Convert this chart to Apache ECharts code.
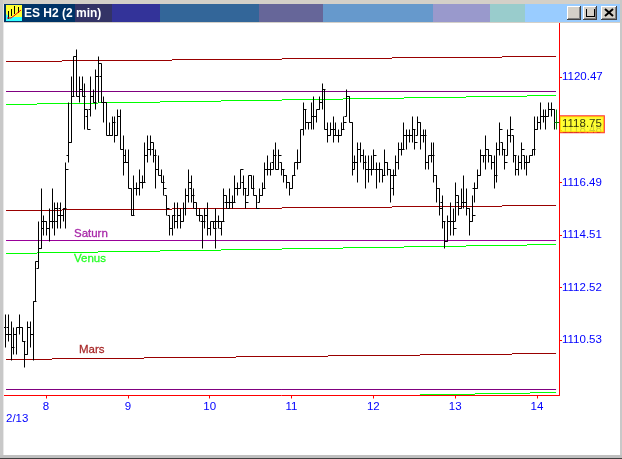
<!DOCTYPE html>
<html><head><meta charset="utf-8">
<style>html,body{margin:0;padding:0;background:#fff}#c{width:622px;height:459px}</style>
<script src="https://cdn.jsdelivr.net/npm/echarts@6/dist/echarts.min.js"></script>
</head><body><div id="c"></div>
<script>
// Prices are stored in ES ticks (quarter points) above basePrice.
const basePrice = 1108, tickSize = 0.25, firstBarMinute = 450.5, barMinutes = 2;
const highTicks = [14,14,13,12,12,14,12,10,13,13,
16,22,28,33,29,28,30,33,31,31,
31,30,37,46,50,53,54,50,50,49,
45,50,48,51,53,52,47,46,43,44,
44,45,45,41,39,39,33,35,34,36,
35,40,41,41,40,39,38,36,35,32,
29,29,31,31,30,31,33,36,35,33,
31,30,29,30,31,28,28,30,29,28,
33,32,33,32,35,34,36,35,33,35,
35,35,32,33,34,37,38,37,39,40,
39,37,36,35,34,35,37,39,42,46,
45,43,46,47,45,47,49,48,43,43,
44,43,42,43,44,48,47,43,38,40,
40,39,38,38,38,39,37,37,36,39,
37,36,36,38,40,40,43,42,42,44,
42,44,43,42,42,38,40,40,35,33,
32,28,29,31,30,34,32,33,35,33,
30,32,34,36,39,38,41,39,38,38,
40,43,40,39,42,44,41,38,38,40,
38,38,38,39,44,44,46,45,45,46,
46,45,45];
const lowTicks = [9,10,7,8,8,11,10,6,8,9,
7,16,21,24,26,26,25,27,26,27,
27,28,27,37,40,47,47,46,47,42,
42,44,46,45,46,46,43,41,41,41,
40,41,39,35,37,33,29,29,32,32,
33,34,37,38,37,33,35,34,32,29,
26,26,27,27,27,28,29,31,31,30,
29,28,24,27,26,26,27,24,27,26,
28,30,30,30,31,32,33,32,30,32,
33,32,30,31,32,33,35,35,36,36,
36,35,34,33,32,33,35,36,37,41,
42,42,42,42,43,45,45,42,40,41,
40,41,40,41,42,44,43,35,36,34,
37,36,33,34,35,36,33,34,34,35,
35,31,32,35,36,38,39,39,40,40,
39,41,39,40,36,36,37,34,31,29,
27,24,25,26,26,28,29,30,30,29,
26,28,31,33,35,37,36,37,36,33,
34,38,38,36,38,40,37,35,35,36,
36,35,37,38,38,42,42,43,42,44,
44,42,42];
const openTicks = [12,12,11,9,11,12,12,10,8,12,
11,16,21,24,27,28,27,28,28,28,
30,29,30,38,40,47,53,47,48,47,
44,45,47,46,50,50,46,46,41,41,
43,41,44,39,38,37,33,29,33,33,
34,34,38,39,39,38,36,35,34,32,
29,27,29,28,29,28,30,32,33,32,
30,29,28,28,29,27,28,28,28,27,
28,31,30,31,31,33,33,34,33,32,
35,33,32,31,32,33,36,36,37,38,
36,37,36,35,34,33,35,37,37,42,
45,43,43,44,44,45,46,48,42,41,
42,42,41,41,42,44,47,43,36,37,
39,38,37,36,36,36,36,36,36,35,
37,36,33,35,37,39,39,41,41,41,
42,41,43,41,41,37,38,38,35,33,
31,28,25,28,28,28,31,30,31,31,
30,28,33,33,35,38,38,39,38,37,
35,39,40,39,38,41,41,38,36,37,
38,37,37,38,39,42,43,44,44,44,
45,45,43];
const closeTicks = [11,11,9,11,12,12,10,8,12,11,
16,22,24,28,28,27,28,28,30,29,
29,30,36,40,47,53,47,48,47,45,
42,47,46,50,52,46,46,41,41,43,
41,44,39,37,37,33,29,33,33,34,
34,38,39,40,38,36,35,34,33,30,
27,29,28,29,28,30,32,34,32,31,
29,29,28,29,27,28,27,28,28,28,
32,31,31,31,33,33,36,33,31,35,
33,32,30,32,33,36,36,36,38,36,
38,36,35,34,33,35,37,37,42,45,
43,43,44,44,45,46,48,42,41,42,
41,41,41,42,43,47,43,37,37,39,
38,37,36,36,36,38,36,36,35,37,
36,35,35,37,39,39,41,41,41,42,
40,43,41,41,37,38,38,35,33,30,
28,25,28,28,27,32,30,31,31,30,
28,29,33,35,38,38,39,38,37,35,
39,42,39,37,41,42,38,36,37,39,
37,37,38,39,42,43,44,44,44,45,
45,43,43];

// Planet price lines: step minutes (clock minutes of the day) and the level held in each step.
const redMinutes = [450.7,491.7,572.4,653,733.7,814.4,854];
const redUpper = [1121.07,1121.11,1121.15,1121.18,1121.22,1121.26];
const redMiddle = [1115.44,1115.48,1115.52,1115.56,1115.59,1115.63];
const marsMinutes = [450.7,484.4,551.9,619.3,686.8,754.2,821.7,854];
const marsLevels = [1109.81,1109.85,1109.89,1109.93,1109.96,1110.00,1110.04];
const greenMinutes = [450.7,473.4,518.1,563.6,608.3,653,697.8,742.5,788,832.7,854];
const greenUpper = [1119.45,1119.49,1119.53,1119.56,1119.60,1119.64,1119.68,1119.71,1119.75,1119.79];
const venusLevels = [1113.82,1113.86,1113.89,1113.93,1113.97,1114.01,1114.05,1114.08,1114.12,1114.16];
const greenLowerMinutes = [754.2,794.5,834.9,854];
const greenLower = [1108.49,1108.53,1108.57];
const purpleMinutes = [450.7,854];
const purpleUpper = [1119.94], saturnLevels = [1114.31], purpleLower = [1108.68];

const priceTicks = [1110.53,1112.52,1114.51,1116.49,1118.48,1120.47];
const hourTicks = [480,540,600,660,720,780,840];
const lastPrice = 1118.75;
const annotations = [
  {name:'Saturn', minute:500.5, price:1114.55, color:'#990099'},
  {name:'Venus', minute:500.5, price:1113.60, color:'#00ff00'},
  {name:'Mars', minute:504.2, price:1110.16, color:'#990000'}
];
const titleText = 'ES H2 (2 min)', dateText = '2/13';

const bars = highTicks.map((h,i)=>[firstBarMinute+i*barMinutes, basePrice+h*tickSize, basePrice+lowTicks[i]*tickSize, basePrice+openTicks[i]*tickSize, basePrice+closeTicks[i]*tickSize]);
const font = '"Liberation Sans", Arial, sans-serif';

function crisp(v){ return Math.round(v-0.5)+0.5; }
function renderBar(params, api){
  const t = api.value(0);
  const hi = api.coord([t, api.value(1)]), lo = api.coord([t, api.value(2)]);
  const op = api.coord([t, api.value(3)]), cl = api.coord([t, api.value(4)]);
  const x = crisp(hi[0]), stroke = params.dataIndex === bars.length-1 ? '#008000' : '#000';
  const st = {stroke, lineWidth:1, fill:null};
  return {type:'group', children:[
    {type:'line', shape:{x1:x,y1:crisp(hi[1]),x2:x,y2:crisp(lo[1])}, style:st},
    {type:'line', shape:{x1:x-2,y1:crisp(op[1]),x2:x,y2:crisp(op[1])}, style:st},
    {type:'line', shape:{x1:x,y1:crisp(cl[1]),x2:x+3,y2:crisp(cl[1])}, style:st}
  ]};
}
function renderStep(params, api){
  const a = api.coord([api.value(0), api.value(2)]), b = api.coord([api.value(1), api.value(2)]);
  const y = crisp(a[1]);
  return {type:'line', shape:{x1:a[0],y1:y,x2:b[0],y2:y}, style:{stroke:api.visual('color'),lineWidth:1,fill:null}};
}
function stepSeries(name, minutes, levels, color){
  return {name, type:'custom', renderItem:renderStep, itemStyle:{color}, z:2, silent:true,
    encode:{x:[0,1],y:2}, data:levels.map((v,i)=>[minutes[i],minutes[i+1],v])};
}
function labelSeries(){
  return annotations.map(a=>({type:'scatter', symbolSize:0, z:6, silent:true, data:[[a.minute,a.price]],
    label:{show:true, position:'right', distance:0, formatter:a.name, color:a.color, fontFamily:font, fontSize:11.5, textBorderColor:a.color, textBorderWidth:0.3}}));
}
function R(x,y,w,h,fill,z){ return {type:'rect',silent:true,z:z||20,shape:{x,y,width:w,height:h},style:{fill,stroke:null}}; }
function L(x1,y1,x2,y2,stroke,w,z){ return {type:'line',silent:true,z:z||22,shape:{x1,y1,x2,y2},style:{stroke,lineWidth:w||1}}; }

const bands = [[4,75,'#003366'],[75,112,'#333366'],[112,160,'#333399'],[160,259,'#336699'],[259,323,'#666699'],[323,433,'#6699cc'],[433,490,'#9999cc'],[490,525,'#99cccc'],[525,620,'#99ccff']];
const chrome = [];
chrome.push(R(0,0,622,4,'#d4d0c8'), R(0,0,3,459,'#c8c8c8'), R(3,4,1,451,'#e8e8e8'), R(620,0,2,459,'#c8c8c8'), R(0,455,622,3,'#c0c0c0'), R(0,458,622,1,'#404040'), R(4,22,616,1,'#d4d0c8'));
bands.forEach(b=>chrome.push(R(b[0],4,b[1]-b[0],18,b[2])));
// icon
chrome.push(R(6,5,16,16,'#ffff33',21),
  {type:'polygon',silent:true,z:21,shape:{points:[[6,14],[14,21],[6,21]]},style:{fill:'#33ffff'}},
  R(6,17,16,4,'#33ffff',21),
  L(8.5,11,8.5,19,'#000'),L(11.5,9,11.5,16,'#000'),L(14.5,6,14.5,14,'#000'),L(18.5,7,18.5,13,'#000'),
  {type:'polyline',silent:true,z:22,shape:{points:[[7,18],[11,18],[15,15],[21,10]]},style:{stroke:'#ff0000',fill:null,lineWidth:1}});
chrome.push({type:'text',silent:true,z:22,style:{x:24,y:13.5,text:titleText,fill:'#fff',font:'bold 12px '+font,textVerticalAlign:'middle'}});
// window buttons
[[567,14],[583,14],[601,16]].forEach(b=>{
  chrome.push(R(b[0],6,b[1],14,'#404040',21),R(b[0],6,b[1]-1,13,'#ffffff',21),R(b[0]+1,7,b[1]-2,12,'#808080',21),R(b[0]+1,7,b[1]-3,11,'#d4d0c8',21));
});
chrome.push(R(571,15,6,2,'#000'),
  R(586,8,9,2,'#000'),L(586.5,9,586.5,17,'#000'),L(594.5,9,594.5,17,'#000'),L(586,16.5,595,16.5,'#000'),
  L(605,9,613,16,'#000',2),L(613,9,605,16,'#000',2));
chrome.push({type:'text',silent:true,z:22,style:{x:6,y:419,text:dateText,fill:'#0000ff',font:'11.5px '+font,textVerticalAlign:'middle'}});

const chart = echarts.init(document.getElementById('c'), null, {renderer:'canvas', width:622, height:459});
chart.setOption({
  animation:false, backgroundColor:'#fff',
  grid:{left:4,right:63,top:23,bottom:63.5,containLabel:false},
  xAxis:{type:'value',min:449.2,max:856.16,
    axisLine:{show:true,onZero:false,lineStyle:{color:'#ff0000',width:1}},
    axisTick:{show:true,length:3,customValues:hourTicks,lineStyle:{color:'#ff0000'}},
    axisLabel:{show:true,customValues:hourTicks,formatter:v=>String(v/60),color:'#0000ff',fontFamily:font,fontSize:11.5,margin:5},
    splitLine:{show:false}},
  yAxis:{type:'value',position:'right',min:1108.44,max:1122.52,
    axisLine:{show:true,onZero:false,lineStyle:{color:'#ff0000',width:1}},
    axisTick:{show:true,length:3,customValues:priceTicks,lineStyle:{color:'#ff0000'}},
    axisLabel:{show:true,customValues:priceTicks,formatter:v=>v.toFixed(2),color:'#0000ff',fontFamily:font,fontSize:11.5,margin:3},
    splitLine:{show:false}},
  series:[
    stepSeries('Upper red',redMinutes,redUpper,'#990000'),
    stepSeries('Upper purple',purpleMinutes,purpleUpper,'#800080'),
    stepSeries('Upper green',greenMinutes,greenUpper,'#00ff00'),
    stepSeries('Middle red',redMinutes,redMiddle,'#990000'),
    stepSeries('Saturn',purpleMinutes,saturnLevels,'#990099'),
    stepSeries('Venus',greenMinutes,venusLevels,'#00ff00'),
    stepSeries('Mars',marsMinutes,marsLevels,'#990000'),
    stepSeries('Lower purple',purpleMinutes,purpleLower,'#800080'),
    stepSeries('Lower green',greenLowerMinutes,greenLower,'#00ff00'),
    {name:'ES H2',type:'custom',renderItem:renderBar,z:3,silent:true,clip:false,encode:{x:0,y:[1,2,3,4]},data:bars},
    ...labelSeries(),
    {type:'scatter',symbolSize:0,z:10,silent:true,clip:false,data:[[856.16,lastPrice]],
      label:{show:true,position:'right',distance:0,offset:[1,1.5],formatter:()=>lastPrice.toFixed(2),color:'#000',fontFamily:font,fontSize:11.5,
        backgroundColor:'#ffff00',borderColor:'#ff0000',borderWidth:1,padding:[2,2,2,2]}}
  ],
  graphic:{elements:chrome}
});
</script></body></html>
